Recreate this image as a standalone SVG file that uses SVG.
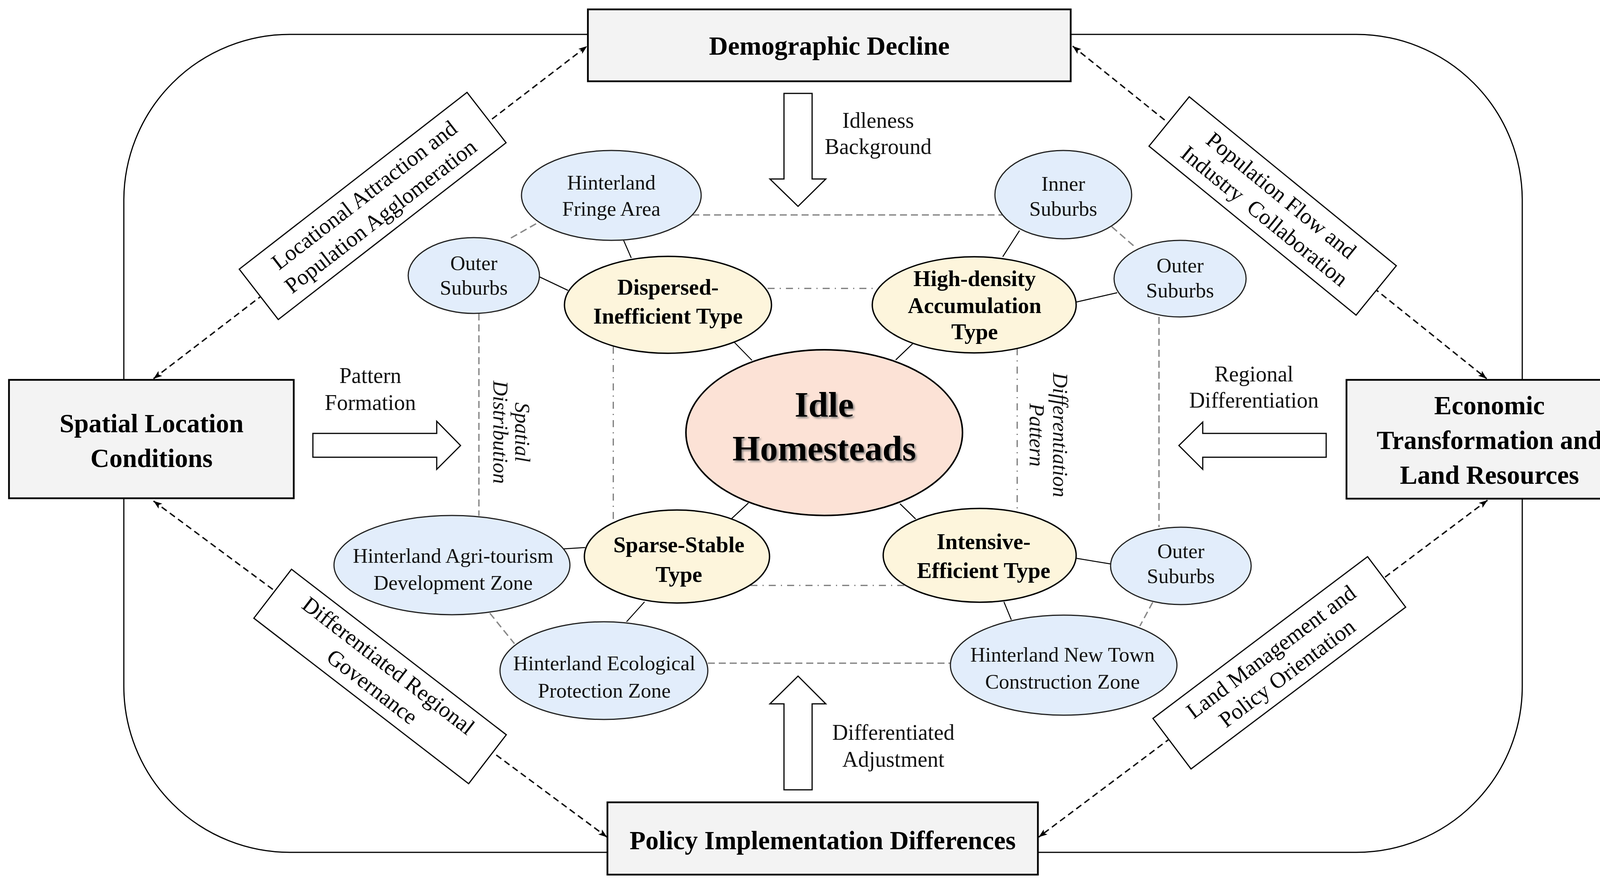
<svg xmlns="http://www.w3.org/2000/svg" width="4197" height="2262" viewBox="0 0 4197 2262">
<defs>
<style>
.frame{fill:none;stroke:#000;stroke-width:3}
.box{fill:#f3f3f3;stroke:#000;stroke-width:4.5}
.title{font-family:"Liberation Serif","Times New Roman",serif;font-weight:bold;font-size:67px;text-anchor:middle;fill:#000}
.core{fill:#fce2d6;stroke:#000;stroke-width:4}
.coretxt{font-family:"Liberation Serif","Times New Roman",serif;font-weight:bold;font-size:91px;text-anchor:middle;fill:#000}
.yel{fill:#fdf5dc;stroke:#000;stroke-width:3.5}
.ytxt{font-family:"Liberation Serif","Times New Roman",serif;font-weight:bold;font-size:57px;text-anchor:middle;fill:#000}
.blu{fill:#e2edfb;stroke:#222;stroke-width:3}
.btxt{font-family:"Liberation Serif","Times New Roman",serif;font-size:53px;text-anchor:middle;fill:#111}
.atxt{font-family:"Liberation Serif","Times New Roman",serif;font-size:56px;text-anchor:middle;fill:#111}
.itxt{font-family:"Liberation Serif","Times New Roman",serif;font-style:italic;font-size:54px;text-anchor:middle;fill:#111}
.dtxt{font-family:"Liberation Serif","Times New Roman",serif;font-size:57px;text-anchor:middle;fill:#000;white-space:pre}
.diag{fill:#fff;stroke:#000;stroke-width:3}
.solid{fill:none;stroke:#000;stroke-width:2.5}
.gdash{fill:none;stroke:#888;stroke-width:3.5;stroke-dasharray:18 10}
.ddot{fill:none;stroke:#777;stroke-width:3;stroke-dasharray:18 13 3 13}
.kdash{fill:none;stroke:#000;stroke-width:3.5;stroke-dasharray:16 10;marker-start:url(#ah);marker-end:url(#ah)}
.barrow{fill:#fff;stroke:#000;stroke-width:3;stroke-linejoin:miter}
</style>
<marker id="ah" markerUnits="userSpaceOnUse" markerWidth="24" markerHeight="18" refX="22" refY="8" orient="auto-start-reverse" viewBox="0 0 24 16">
<path d="M0,0 L22,8 L0,16 L5,8 Z" fill="#000"/>
</marker>
<filter id="shadow" x="-10%" y="-10%" width="120%" height="130%">
<feDropShadow dx="4" dy="4" stdDeviation="2" flood-color="#777" flood-opacity="0.8"/>
</filter>
</defs>
<rect width="4197" height="2262" fill="#fff"/>

<g id="frame">
<rect class="frame" x="317" y="88" width="3580" height="2093" rx="425" ry="425"/>
</g>

<g id="connectors">
<line class="kdash" x1="393" y1="969" x2="1503" y2="118"/>
<line class="kdash" x1="2746" y1="118" x2="3806" y2="969"/>
<line class="kdash" x1="393" y1="1282" x2="1554" y2="2142"/>
<line class="kdash" x1="3808" y1="1280" x2="2659" y2="2142"/>
<line class="gdash" x1="1772" y1="550" x2="2565" y2="550"/>
<line class="gdash" x1="2846" y1="580" x2="2909" y2="635"/>
<line class="gdash" x1="2967" y1="811" x2="2967" y2="1349"/>
<line class="gdash" x1="2951" y1="1541" x2="2918" y2="1602"/>
<line class="gdash" x1="1812" y1="1697" x2="2433" y2="1697"/>
<line class="gdash" x1="1254" y1="1569" x2="1317" y2="1647"/>
<line class="gdash" x1="1226" y1="802" x2="1226" y2="1320"/>
<line class="gdash" x1="1308" y1="609" x2="1375" y2="571"/>
<line class="ddot" x1="1965" y1="738" x2="2249" y2="738"/>
<line class="ddot" x1="1570" y1="887" x2="1570" y2="1336"/>
<line class="ddot" x1="2604" y1="891" x2="2604" y2="1308"/>
<line class="ddot" x1="1921" y1="1498" x2="2317" y2="1498"/>
<line class="solid" x1="1596" y1="614" x2="1616" y2="660"/>
<line class="solid" x1="1378" y1="707" x2="1454" y2="743"/>
<line class="solid" x1="1880" y1="876" x2="1925" y2="922"/>
<line class="solid" x1="2610" y1="590" x2="2567" y2="657"/>
<line class="solid" x1="2755" y1="773" x2="2860" y2="749"/>
<line class="solid" x1="2337" y1="879" x2="2293" y2="921"/>
<line class="solid" x1="1916" y1="1287" x2="1873" y2="1327"/>
<line class="solid" x1="2304" y1="1289" x2="2344" y2="1328"/>
<line class="solid" x1="1418" y1="1406" x2="1498" y2="1401"/>
<line class="solid" x1="1650" y1="1540" x2="1604" y2="1591"/>
<line class="solid" x1="2752" y1="1428" x2="2843" y2="1443"/>
<line class="solid" x1="2570" y1="1540" x2="2589" y2="1586"/>
</g>

<g id="flow-arrows">
<polygon class="barrow" points="2007,239 2079,239 2079,458 2114,458 2043,528 1971,458 2007,458"/>
<polygon class="barrow" points="2007,2021 2079,2021 2079,1801 2114,1801 2043,1730 1971,1801 2007,1801"/>
<polygon class="barrow" points="801,1109 1118,1109 1118,1078 1179,1140 1118,1201 1118,1170 801,1170"/>
<polygon class="barrow" points="3395,1109 3079,1109 3079,1080 3018,1140 3079,1201 3079,1170 3395,1170"/>
<text class="atxt"><tspan x="2248" y="327">Idleness</tspan><tspan x="2248" y="394">Background</tspan></text>
<text class="atxt"><tspan x="948" y="980">Pattern</tspan><tspan x="948" y="1049">Formation</tspan></text>
<text class="atxt"><tspan x="3210" y="976">Regional</tspan><tspan x="3210" y="1043">Differentiation</tspan></text>
<text class="atxt"><tspan x="2287" y="1893">Differentiated</tspan><tspan x="2287" y="1962">Adjustment</tspan></text>
<text class="itxt" transform="translate(1290,1106) rotate(90)"><tspan x="0" y="-29">Spatial</tspan><tspan x="0" y="27">Distribution</tspan></text>
<text class="itxt" transform="translate(2668,1113) rotate(90)"><tspan x="0" y="-28">Differentiation</tspan><tspan x="0" y="32">Pattern</tspan></text>
</g>

<g id="label-locational" transform="translate(954,527) rotate(-37.8)">
<rect class="diag" x="-369" y="-81.5" width="738" height="163"/>
<text class="dtxt"><tspan x="0" y="-16">Locational Attraction and</tspan><tspan x="0" y="52">Population Agglomeration</tspan></text>
</g>
<g id="label-population-flow" transform="translate(3258,527) rotate(39.2)">
<rect class="diag" x="-342" y="-81.5" width="684" height="163"/>
<text class="dtxt"><tspan x="0" y="-16">Population Flow and</tspan><tspan x="0" y="52">Industry  Collaboration</tspan></text>
</g>
<g id="label-regional-governance" transform="translate(973,1731) rotate(37.6)">
<rect class="diag" x="-347" y="-79" width="694" height="158"/>
<text class="dtxt"><tspan x="0" y="-16">Differentiated Regional</tspan><tspan x="0" y="52">Governance</tspan></text>
</g>
<g id="label-land-management" transform="translate(3275,1696) rotate(-37)">
<rect class="diag" x="-344" y="-81" width="688" height="162"/>
<text class="dtxt"><tspan x="0" y="-16">Land Management and</tspan><tspan x="0" y="52">Policy Orientation</tspan></text>
</g>

<g id="node-demographic">
<rect class="box" x="1505" y="24" width="1236" height="184"/>
<text class="title" x="2123" y="140">Demographic Decline</text>
</g>
<g id="node-spatial">
<rect class="box" x="23" y="972" width="729" height="303"/>
<text class="title"><tspan x="388" y="1106">Spatial Location</tspan><tspan x="388" y="1195">Conditions</tspan></text>
</g>
<g id="node-economic">
<rect class="box" x="3447" y="972" width="732" height="304"/>
<text class="title"><tspan x="3813" y="1060">Economic</tspan><tspan x="3813" y="1149">Transformation and</tspan><tspan x="3813" y="1238">Land Resources</tspan></text>
</g>
<g id="node-policy">
<rect class="box" x="1555" y="2053" width="1102" height="185"/>
<text class="title" x="2106" y="2173">Policy Implementation Differences</text>
</g>

<g id="node-idle">
<ellipse class="core" cx="2110" cy="1107" rx="354" ry="212"/>
<text class="coretxt" filter="url(#shadow)"><tspan x="2110" y="1066">Idle</tspan><tspan x="2110" y="1178">Homesteads</tspan></text>
</g>

<g id="node-dispersed">
<ellipse class="yel" cx="1710" cy="780" rx="265" ry="124"/>
<text class="ytxt"><tspan x="1710" y="754">Dispersed-</tspan><tspan x="1710" y="828">Inefficient Type</tspan></text>
</g>
<g id="node-highdensity">
<ellipse class="yel" cx="2494" cy="780" rx="261" ry="123"/>
<text class="ytxt"><tspan x="2495" y="732">High-density</tspan><tspan x="2495" y="801">Accumulation</tspan><tspan x="2495" y="868">Type</tspan></text>
</g>
<g id="node-sparse">
<ellipse class="yel" cx="1733" cy="1424" rx="237" ry="119"/>
<text class="ytxt"><tspan x="1738" y="1413">Sparse-Stable</tspan><tspan x="1738" y="1489">Type</tspan></text>
</g>
<g id="node-intensive">
<ellipse class="yel" cx="2508" cy="1421" rx="247" ry="120"/>
<text class="ytxt"><tspan x="2518" y="1405">Intensive-</tspan><tspan x="2518" y="1479">Efficient Type</tspan></text>
</g>

<g id="node-hinterland-fringe">
<ellipse class="blu" cx="1565" cy="500" rx="230" ry="115"/>
<text class="btxt"><tspan x="1565" y="485">Hinterland</tspan><tspan x="1565" y="552">Fringe Area</tspan></text>
</g>
<g id="node-outer-suburbs-1">
<ellipse class="blu" cx="1213" cy="705" rx="168" ry="97"/>
<text class="btxt"><tspan x="1213" y="691">Outer</tspan><tspan x="1213" y="754">Suburbs</tspan></text>
</g>
<g id="node-inner-suburbs">
<ellipse class="blu" cx="2722" cy="498" rx="175" ry="113"/>
<text class="btxt"><tspan x="2722" y="488">Inner</tspan><tspan x="2722" y="552">Suburbs</tspan></text>
</g>
<g id="node-outer-suburbs-2">
<ellipse class="blu" cx="3021" cy="713" rx="169" ry="98"/>
<text class="btxt"><tspan x="3021" y="697">Outer</tspan><tspan x="3021" y="761">Suburbs</tspan></text>
</g>
<g id="node-agritourism">
<ellipse class="blu" cx="1157" cy="1446" rx="302" ry="127"/>
<text class="btxt"><tspan x="1160" y="1440">Hinterland Agri-tourism</tspan><tspan x="1160" y="1509">Development Zone</tspan></text>
</g>
<g id="node-ecological">
<ellipse class="blu" cx="1546" cy="1716" rx="266" ry="125"/>
<text class="btxt"><tspan x="1547" y="1715">Hinterland Ecological</tspan><tspan x="1547" y="1785">Protection Zone</tspan></text>
</g>
<g id="node-outer-suburbs-3">
<ellipse class="blu" cx="3023" cy="1448" rx="180" ry="99"/>
<text class="btxt"><tspan x="3023" y="1428">Outer</tspan><tspan x="3023" y="1492">Suburbs</tspan></text>
</g>
<g id="node-newtown">
<ellipse class="blu" cx="2723" cy="1702" rx="290" ry="128"/>
<text class="btxt"><tspan x="2720" y="1693">Hinterland New Town</tspan><tspan x="2720" y="1762">Construction Zone</tspan></text>
</g>
</svg>
